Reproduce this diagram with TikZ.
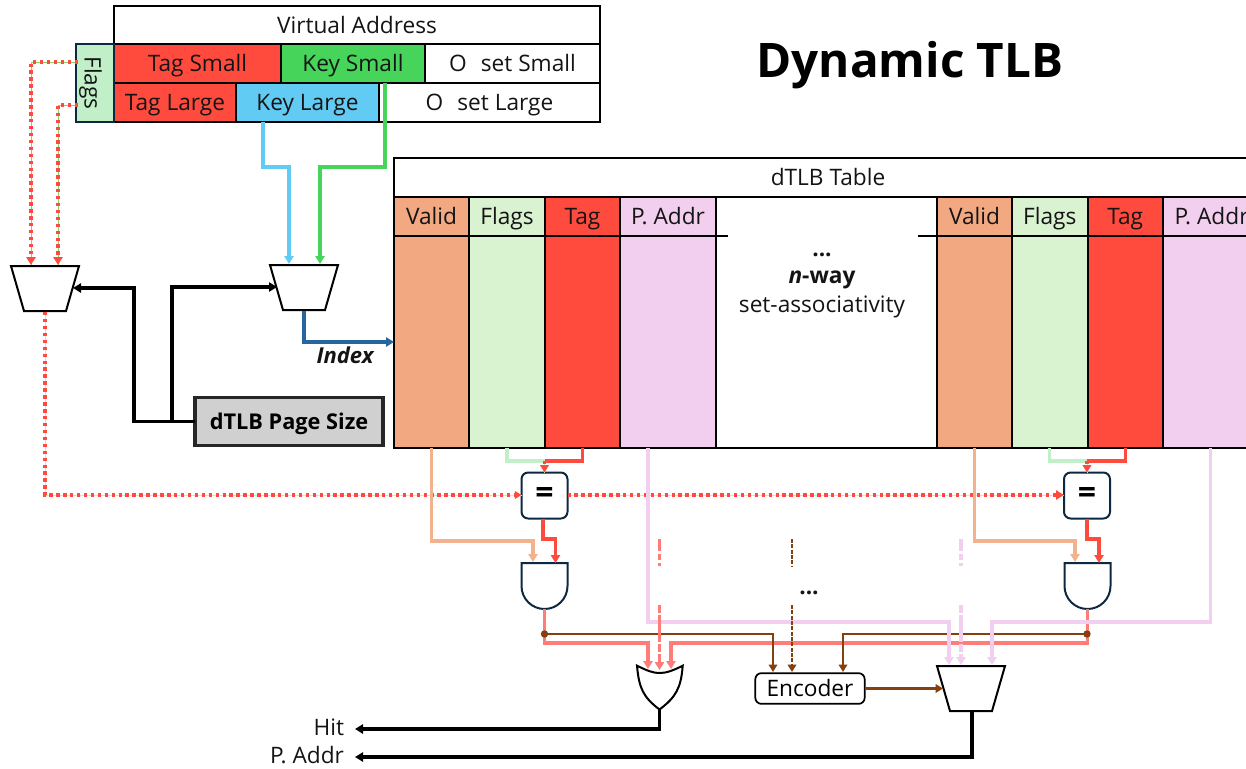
\documentclass[tikz,border=0pt]{standalone}
\usepackage{fontspec}
\setmainfont{Open Sans}
\usetikzlibrary{arrows.meta}
\definecolor{cTag}{HTML}{FF4B3E}
\definecolor{cKeyS}{HTML}{47D45A}
\definecolor{cKeyL}{HTML}{61CBF3}
\definecolor{cFlagBox}{HTML}{C1F0C8}
\definecolor{cValid}{HTML}{F2A982}
\definecolor{cFlags}{HTML}{D9F2D0}
\definecolor{cAddr}{HTML}{F2CEEF}
\definecolor{cBrown}{HTML}{84400F}
\definecolor{cSalmon}{HTML}{FF7C78}
\definecolor{cNavy}{HTML}{0E2841}
\definecolor{cBlue}{HTML}{2566A0}
\definecolor{cGreenD}{HTML}{8FD06E}
\definecolor{cGrey}{HTML}{D0D0D0}
\newcommand\cellbox[7]{\node[cellst,#6,minimum width={(#4-#2)*0.75pt},minimum height={(#5-#3)*0.75pt}] (#1) at ({(#2+#4)/2},{(#3+#5)/2}) {#7};}
\newcommand\mytext{\fontsize{17}{20}\selectfont}
\newcommand\muxshape[5]{\draw[muxst] (#1,#2) -- (#3,#2) -- ({#3-13},#4) -- ({#1+13},#4) -- cycle;}
\newcommand\andshape[1]{\draw[gatest] ({#1-23},563) -- ({#1+23},563) -- ({#1+23},586) .. controls ({#1+23},598.7) and ({#1+12.7},609) .. (#1,609) .. controls ({#1-12.7},609) and ({#1-23},598.7) .. ({#1-23},586) -- cycle;}
\tikzset{
  cellst/.style={draw=black,line width=1.5pt,inner sep=0pt,outer sep=0pt,font=\mytext,text=black!92,text height=14.7pt,text depth=2pt},
  muxst/.style={draw=black,line width=1.5pt,fill=white,line join=miter},
  gatest/.style={draw=cNavy,line width=1.5pt,fill=white},
  tip/.style={-{Triangle[length=#1*1.0pt,width=#1*1.15pt]}},
  wire/.style={line width=2.35pt,tip=6},
  thinw/.style={line width=1.7pt,color=cBrown,tip=5.5},
  blk/.style={line width=2.3pt,color=black,tip=6},
  dualA/.style={line width=2.4pt,color=cTag,dash pattern=on 2.6pt off 2.6pt,tip=#1,preaction={draw=cGreenD,solid,arrows=-}},
  dualB/.style={line width=2.4pt,color=cTag,dash pattern=on 2.6pt off 2.6pt,tip=#1,preaction={draw=cFlagBox,solid,arrows=-}},
  lbl/.style={inner sep=0pt,outer sep=0pt,font=\mytext,text=black!92,text height=14.7pt,text depth=2pt},
  blbl/.style={inner sep=0pt,outer sep=0pt,font=\mytext,text=black!92,anchor=base},
}
\begin{document}
\begin{tikzpicture}[x=0.75pt,y=-0.75pt]
\useasboundingbox (0,0) rectangle (1246,768);
\clip (0,0) rectangle (1246,768);
% Virtual address
\cellbox{va}{114}{6}{600}{44}{fill=white}{Virtual Address}
\cellbox{tagS}{114}{44}{281}{83}{fill=cTag}{Tag Small}
\cellbox{keyS}{281}{44}{425}{83}{fill=cKeyS}{Key Small}
\cellbox{offS}{425}{44}{600}{83}{fill=white}{O\hspace{0.62em}set Small}
\cellbox{tagL}{114}{83}{236}{122}{fill=cTag}{Tag Large}
\cellbox{keyL}{236}{83}{379}{122}{fill=cKeyL}{Key Large}
\cellbox{offL}{379}{83}{600}{122}{fill=white}{O\hspace{0.62em}set Large}
\cellbox{flg}{76}{44}{114}{122}{fill=cFlagBox,draw=cNavy}{}
\node[lbl,rotate=-90] (flgt) at (93,83) {Flags};
\node[inner sep=0pt,font=\fontsize{35.7}{40}\selectfont\bfseries] (title) at (910,65) {Dynamic TLB};
% Table
\cellbox{tbl}{394}{158}{1262}{448}{fill=white}{}
\cellbox{hdr}{394}{158}{1262}{197}{fill=white}{}
\node[lbl] (hdrt) at (828,177.5) {dTLB Table};
\cellbox{v1}{394}{197}{469}{236}{fill=cValid}{Valid}
\cellbox{f1}{469}{197}{545}{236}{fill=cFlags}{Flags}
\cellbox{t1}{545}{197}{620}{236}{fill=cTag}{Tag}
\cellbox{p1}{620}{197}{716}{236}{fill=cAddr}{P. Addr}
\cellbox{v2}{937}{197}{1012}{236}{fill=cValid}{Valid}
\cellbox{f2}{1012}{197}{1087.5}{236}{fill=cFlags}{Flags}
\cellbox{t2}{1087.5}{197}{1163}{236}{fill=cTag}{Tag}
\cellbox{p2}{1163}{197}{1260}{236}{fill=cAddr}{P. Addr}
\cellbox{V1}{394}{236}{469}{448}{fill=cValid}{}
\cellbox{F1}{469}{236}{545}{448}{fill=cFlags}{}
\cellbox{T1}{545}{236}{620}{448}{fill=cTag}{}
\cellbox{P1}{620}{236}{716}{448}{fill=cAddr}{}
\cellbox{V2}{937}{236}{1012}{448}{fill=cValid}{}
\cellbox{F2}{1012}{236}{1087.5}{448}{fill=cFlags}{}
\cellbox{T2}{1087.5}{236}{1163}{448}{fill=cTag}{}
\cellbox{P2}{1163}{236}{1260}{448}{fill=cAddr}{}
\coordinate (ruleA) at (728,236);
\coordinate (ruleB) at (918,236);
\draw[line width=1.2pt] (P1.north east) -- (ruleA);
\draw[line width=1.2pt] (V2.north west) -- (ruleB);
\node[blbl,font=\mytext\bfseries] (dots1) at (822,256) {...};
\node[blbl] (nway) at (822,283) {\textbf{\textit{n}-way}};
\node[blbl] (assoc) at (822,312) {set-associativity};
% Muxes
\muxshape{11}{266}{79}{311}{}
\muxshape{270}{265}{338}{310}{}
\muxshape{937}{666}{1005}{711}{}
\coordinate (m1a) at (31,265); \coordinate (m1b) at (58,265);
\coordinate (m1s) at (73,288); \coordinate (m1o) at (45,312);
\coordinate (m2a) at (289,264); \coordinate (m2b) at (320,264);
\coordinate (m2s) at (277,287); \coordinate (m2o) at (304,311);
\coordinate (m3a) at (949,665); \coordinate (m3b) at (961,665); \coordinate (m3c) at (992,665);
\coordinate (m3s) at (943,688.5); \coordinate (m3o) at (972,712);
% page size
\node[draw=black!85,line width=2.4pt,fill=cGrey,inner sep=0pt,outer sep=0pt,minimum width=141pt,minimum height=36.5pt,font=\fontsize{16.3}{20}\selectfont\bfseries,text height=14pt,text depth=2pt] (ps) at (289,421.5) {dTLB Page Size};
% = boxes
\node[draw=cNavy,line width=1.5pt,fill=white,rounded corners=5pt,inner sep=0pt,outer sep=0pt,minimum size=34.5pt,font=\fontsize{24}{24}\selectfont\bfseries] (eqL) at (544.5,495.5) {=};
\node[draw=cNavy,line width=1.5pt,fill=white,rounded corners=5pt,inner sep=0pt,outer sep=0pt,minimum size=34.5pt,font=\fontsize{24}{24}\selectfont\bfseries] (eqR) at (1087,495.5) {=};
% encoder
\node[draw=black,line width=1.3pt,fill=white,rounded corners=4.5pt,inner sep=0pt,outer sep=0pt,minimum width=82pt,minimum height=23pt,font=\mytext,text height=14.7pt,text depth=2pt] (enc) at (810,688.5) {Encoder};
% gates
\andshape{544.5}
\andshape{1087.5}
\coordinate (aLo) at (544.5,609); \coordinate (aRo) at (1087.5,609);
\draw[line width=1.5pt,fill=white,line join=miter] (637,665.7) .. controls (648,671) and (653,673) .. (659.5,673) .. controls (666,673) and (672,671) .. (682.7,665.7) .. controls (681,688) and (676,697) .. (659.5,709.5) .. controls (643,697) and (639,688) .. cycle;
\coordinate (orA) at (648,669); \coordinate (orB) at (659.5,670); \coordinate (orC) at (671,669); \coordinate (orO) at (659.5,710);
% flags wires
\draw[dualA=6] (78,62) -- (31,62) -- (m1a);
\draw[dualA=6] (78,105) -- (58,105) -- (m1b);
% key wires
\coordinate (keyLo) at (263,122); \coordinate (keySo) at (385,83);
\draw[wire,cKeyL] (keyLo) -- (263,167) -- (289,167) -- (m2a);
\draw[wire,cKeyS] (keySo) -- (385,167) -- (320,167) -- (m2b);
% index
\coordinate (idxIn) at (394,342);
\draw[wire,cBlue] (m2o) -- (304,342) -- (idxIn);
\node[lbl,font=\fontsize{16.5}{20}\selectfont\bfseries\itshape] (idx) at (345,355.5) {Index};
% page size wires
\draw[blk] (ps.west) -- (134,421.5) -- (134,288) -- (m1s);
\draw[blk] (ps.west) -- (172,421.5) -- (172,287) -- (m2s);
% dual row
\draw[dualB=5] (m1o) -- (45,495) -- (eqL.west |- 0,495);
\draw[dualB=6] (eqL.east |- 0,495) -- (eqR.west |- 0,495);
% taps to = gates
\coordinate (jL) at (544.5,461); \coordinate (jR) at (1087,461);
\draw[line width=2.35pt,color=cFlagBox] (F1.south) |- (jL);
\draw[line width=2.35pt,color=cTag] (T1.south) |- (jL);
\draw[line width=2.35pt,color=cFlagBox] (F2.south) |- (jR);
\draw[line width=2.35pt,color=cTag] (T2.south) |- (jR);
\draw[dualB=5.5] (jL) -- (eqL.north);
\draw[dualB=5.5] (jR) -- (eqR.north);
% valid
\draw[wire,color=cValid!90!white] (V1.south) -- (431.5,541) -- (533,541) -- (533,562);
\draw[wire,color=cValid!90!white] (V2.south) -- (974.5,541) -- (1075,541) -- (1075,562);
% = out
\draw[line width=2.6pt,color=cTag,tip=6] (eqL.south -| 543,0) -- (543,539) -- (555.5,539) -- (555.5,563);
\draw[line width=2.6pt,color=cTag,tip=6] (eqR.south) -- (1087,539) -- (1099,539) -- (1099,563);
% hit wires
\draw[wire,cSalmon,line width=2.4pt] (aLo) -- (544.5,643) -- (648,643) -- (orA);
\draw[wire,cSalmon,line width=2.4pt] (aRo) -- (1087.5,643) -- (671,643) -- (orC);
% brown
\draw[thinw] (544.5,634) -- (773,634) -- (773,672);
\draw[thinw] (1087.5,634) -- (843,634) -- (843,672);
\fill[cBrown] (544.5,634) circle (3.7);
\fill[cBrown] (1087,634) circle (3.7);
% P addr
\coordinate (pLo) at (648,448); \coordinate (pRo) at (1210.5,448);
\draw[wire,cAddr] (pLo) -- (648,622) -- (949,622) -- (m3a);
\draw[wire,cAddr] (pRo) -- (1210.5,622) -- (992,622) -- (m3c);
% omitted ways
\draw[line width=2.4pt,cSalmon,dash pattern=on 9pt off 2pt on 5pt off 2pt] (659.5,539) -- (659.5,566);
\draw[line width=2.4pt,cSalmon,dash pattern=on 6pt off 1.5pt on 20pt off 1.5pt,tip=6] (659.5,605) -- (orB);
\draw[line width=1.5pt,cBrown,dash pattern=on 3pt off 1pt] (792,539) -- (792,566);
\draw[line width=1.5pt,cBrown,dash pattern=on 3pt off 1pt,tip=5.5] (792,605) -- (792,672);
\draw[line width=2.4pt,cAddr,dash pattern=on 9pt off 2pt on 5pt off 2pt] (961,539) -- (961,566);
\draw[line width=2.4pt,cAddr,dash pattern=on 6pt off 1.5pt on 20pt off 1.5pt,tip=6] (961,605) -- (m3b);
\node[blbl,font=\mytext\bfseries] (dots2) at (809,594) {...};
% encoder out
\draw[thinw] (enc.east) -- (m3s);
% outputs
\node[lbl,anchor=east] (hit) at (344,727.5) {Hit};
\node[lbl,anchor=east] (pa) at (344,755.5) {P. Addr};
\coordinate (hitEnd) at (355,729);
\coordinate (paEnd) at (355,757);
\draw[blk] (orO) -- (659.5,729) -- (hitEnd);
\draw[blk] (m3o) -- (972,757) -- (paEnd);
\end{tikzpicture}
\end{document}
